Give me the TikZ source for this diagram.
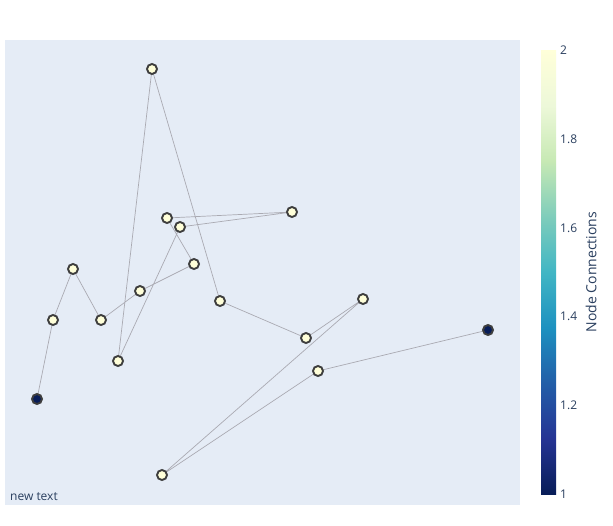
\documentclass[tikz,border=0pt]{standalone}
\usepackage{fontspec}
\setmainfont{Open Sans}
\definecolor{plotbg}{RGB}{229,236,246}
\definecolor{fontc}{RGB}{42,63,95}
\definecolor{edgec}{RGB}{170,170,178}
\definecolor{nodeline}{RGB}{62,62,62}
\definecolor{lowc}{RGB}{8,29,88}
\definecolor{highc}{RGB}{255,255,217}
\pgfdeclarelayer{bg}
\pgfdeclarelayer{edges}
\pgfsetlayers{bg,edges,main}
\pgfdeclareverticalshading{ylgnbu}{100bp}{%
color(0bp)=(lowc);
color(25bp)=(lowc);
color(31.25bp)=(rgb,255:red,37;green,52;blue,148);
color(37.5bp)=(rgb,255:red,34;green,94;blue,168);
color(43.75bp)=(rgb,255:red,29;green,145;blue,192);
color(50bp)=(rgb,255:red,65;green,182;blue,196);
color(56.25bp)=(rgb,255:red,127;green,205;blue,187);
color(62.5bp)=(rgb,255:red,199;green,233;blue,180);
color(68.75bp)=(rgb,255:red,237;green,248;blue,217);
color(75bp)=(highc);
color(100bp)=(highc)}
\tikzset{
  nd/.style={circle, draw=nodeline, line width=1.9pt, fill=highc, minimum size=10pt, inner sep=0pt},
  ndlow/.style={nd, fill=lowc},
  edge/.style={draw=edgec, line width=0.7pt},
  tick/.style={anchor=west, font=\fontsize{12}{14}\selectfont, text=fontc, inner sep=0pt}
}
\begin{document}
\begin{tikzpicture}[x=1pt,y=-1pt]
\begin{pgfonlayer}{bg}
\fill[white] (0,0) rectangle (613,525);
\fill[plotbg] (5,40) rectangle (520,505);
\end{pgfonlayer}
\useasboundingbox (0,0) rectangle (613,525);
% nodes
\node[nd] (A) at (152,69) {};
\node[nd] (B) at (167,218) {};
\node[nd] (C) at (180,227) {};
\node[nd] (D) at (292,212) {};
\node[nd] (E) at (194,264) {};
\node[nd] (F) at (140,291) {};
\node[nd] (G) at (73,269) {};
\node[nd] (H) at (53,320) {};
\node[nd] (I) at (101,320) {};
\node[nd] (J) at (118,361) {};
\node[nd] (K) at (220,301) {};
\node[nd] (L) at (306,338) {};
\node[nd] (M) at (363,299) {};
\node[ndlow] (N) at (488,330) {};
\node[nd] (O) at (318,371) {};
\node[ndlow] (P) at (37,399) {};
\node[nd] (Q) at (162,475) {};
% edges
\begin{pgfonlayer}{edges}
\path[edge] (P.center) -- (H.center) -- (G.center) -- (I.center) -- (F.center) -- (E.center) -- (B.center) -- (D.center) -- (C.center) -- (J.center) -- (A.center) -- (K.center) -- (L.center) -- (M.center) -- (Q.center) -- (O.center) -- (N.center);
\end{pgfonlayer}
% annotation
\node[anchor=south west, inner sep=0pt, font=\fontsize{12}{14}\selectfont, text=fontc] (note) at (10,501) {new text};
% colorbar
\shade[shading=ylgnbu] (541,494) rectangle (556,50);
\node[tick] (t2) at (560,50) {2};
\node[tick] (t18) at (560,139) {1.8};
\node[tick] (t16) at (560,228) {1.6};
\node[tick] (t14) at (560,316) {1.4};
\node[tick] (t12) at (560,405) {1.2};
\node[tick] (t1) at (560,494) {1};
\node[rotate=90, font=\fontsize{14}{16}\selectfont, text=fontc, inner sep=0pt] (cbt) at (591,272) {Node Connections};
\end{tikzpicture}
\end{document}
